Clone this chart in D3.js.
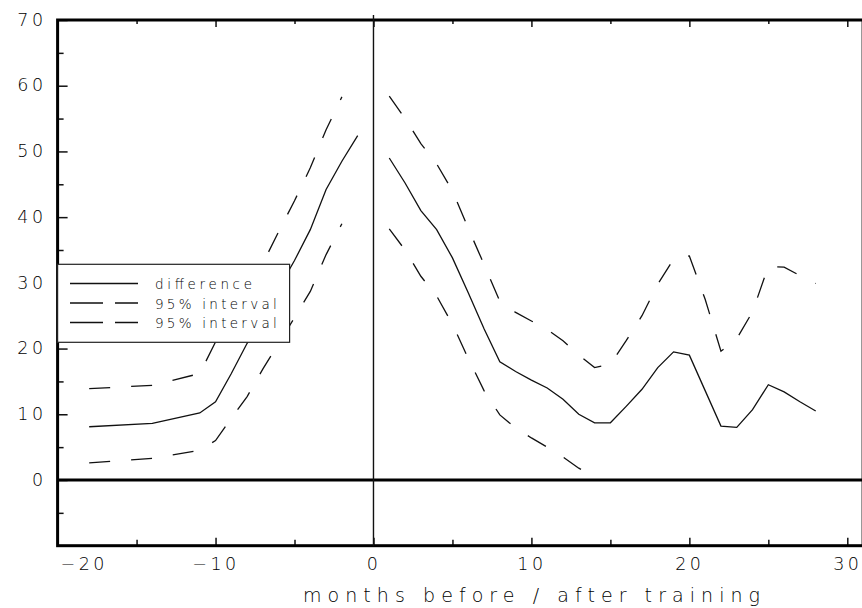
<!DOCTYPE html>
<html>
<head>
<meta charset="utf-8">
<script src="https://cdn.jsdelivr.net/npm/d3@7"></script>
<style>
  body { margin: 0; background: #fff; }
  svg { display: block; }
  text { font-family: 'DejaVu Sans', sans-serif; font-weight: 200; fill: #000; }
</style>
</head>
<body>
<svg width="862" height="608"></svg>
<script>
// months before training (difference and its 95% band)
const preMonths = [-18, -14, -11, -10, -9, -8, -7, -6, -5, -4, -3, -2, -1];
const preDiff   = [8.1, 8.6, 10.2, 11.9, 16.2, 20.8, 24.9, 29.2, 33.4, 38.1, 44.2, 48.5, 52.4];
const preUpper  = [13.9, 14.4, 16.2, 21.0, 25.0, 29.0, 33.0, 37.8, 42.5, 47.5, 53.3, 58.3, null];
const preLower  = [2.6, 3.3, 4.5, 6.0, 9.4, 12.7, 16.9, 20.8, 24.7, 28.7, 34.3, 39.0, null];

// months after training
const postMonths = [1, 2, 3, 4, 5, 6, 7, 8, 9, 10, 11, 12, 13, 14,
                    15, 16, 17, 18, 19, 20, 21, 22, 23, 24, 25, 26, 27, 28];
const postDiff  = [49.0, 45.2, 41.0, 38.1, 33.8, 28.5, 23.0, 18.0, 16.5, 15.2, 14.0, 12.3, 10.0, 8.7,
                   8.7, 11.2, 13.8, 17.1, 19.5, 19.0, 13.6, 8.2, 8.0, 10.7, 14.5, 13.4, 11.9, 10.5];
const postUpper = [58.4, 55.0, 51.2, 48.1, 44.0, 38.3, 32.8, 27.2, 25.5, 24.2, 22.9, 21.2, 19.0, 17.1,
                   17.6, 21.2, 25.0, 29.8, 33.6, 34.1, 27.5, 19.6, 21.5, 25.6, 32.5, 32.4, 31.1, 29.9];
const postLower = [38.2, 35.0, 31.0, 28.0, 23.7, 18.5, 13.6, 9.9, 7.9, 6.4, 5.0, 3.5, 1.8, 0.5,
                   null, null, null, null, null, null, null, null, null, null, null, null, null, null];

const xTicks = [-20, -10, 0, 10, 20, 30];
const xMinor = [-15, -5, 5, 15, 25];
const yTicks = [-10, 0, 10, 20, 30, 40, 50, 60, 70];
const yMinor = [-5, 5, 15, 25, 35, 45, 55, 65];
const legendLabels = ['difference', '95% interval', '95% interval'];
const xTitle = 'months before / after training';

const svg = d3.select('svg');

const x = d3.scaleLinear().domain([-20, 30]).range([57.6, 847.3]);
const y = d3.scaleLinear().domain([-10, 70]).range([545.7, 20]);

const ink = '#111';
const ls = 3.5; // letter spacing of tick labels

function zip(ms, vs) {
    return ms.map((m, i) => ({m: m, v: vs[i]}));
}

const line = d3.line()
    .defined(d => d.v != null)
    .x(d => x(d.m))
    .y(d => y(d.v));

// axes (ticks point inward, the frame is drawn separately)
const bottom = svg.append('g')
    .attr('transform', `translate(0, ${y(-10)})`)
    .call(d3.axisBottom(x).tickValues(xTicks).tickSizeInner(-8).tickSizeOuter(0).tickPadding(11.5));
svg.append('g')
    .attr('transform', `translate(0, ${y(-10)})`)
    .call(d3.axisBottom(x).tickValues(xMinor).tickSizeInner(-6).tickSizeOuter(0).tickFormat(''));
svg.append('g')
    .attr('transform', `translate(0, ${y(70)})`)
    .call(d3.axisTop(x).tickValues(xTicks).tickSizeInner(-7).tickSizeOuter(0).tickFormat(''));
svg.append('g')
    .attr('transform', `translate(0, ${y(70)})`)
    .call(d3.axisTop(x).tickValues(xMinor).tickSizeInner(-4).tickSizeOuter(0).tickFormat(''));
const left = svg.append('g')
    .attr('transform', `translate(${x(-20)}, 0)`)
    .call(d3.axisLeft(y).tickValues(yTicks).tickSizeInner(-10).tickSizeOuter(0).tickPadding(14.5 - ls)
        .tickFormat(d => d < 0 ? '' : d));
svg.append('g')
    .attr('transform', `translate(${x(-20)}, 0)`)
    .call(d3.axisLeft(y).tickValues(yMinor).tickSizeInner(-6).tickSizeOuter(0).tickFormat(''));

svg.selectAll('.domain').remove();
svg.selectAll('.tick line').attr('stroke', ink).attr('stroke-width', 1.5);
svg.selectAll('.tick text')
    .attr('fill', '#000')
    .style('font-family', "'DejaVu Sans', sans-serif")
    .style('font-weight', 200)
    .style('font-size', '17.5px')
    .style('letter-spacing', ls + 'px');
left.selectAll('.tick text').attr('dy', '0.3em');
// leftmost x label is pushed inside the frame
bottom.selectAll('.tick text')
    .filter(d => d === -20)
    .attr('text-anchor', 'start')
    .attr('x', 2.4);

// frame
svg.append('rect')
    .attr('x', x(-20))
    .attr('y', y(70))
    .attr('width', x(31) - x(-20))
    .attr('height', y(-10) - y(70))
    .attr('fill', 'none')
    .attr('stroke', '#000')
    .attr('stroke-width', 3);

// zero line and training month
svg.append('line')
    .attr('x1', x(-20)).attr('x2', x(31))
    .attr('y1', y(0)).attr('y2', y(0))
    .attr('stroke', '#000').attr('stroke-width', 3);
svg.append('line')
    .attr('x1', x(0)).attr('x2', x(0))
    .attr('y1', y(70) - 5).attr('y2', y(-10))
    .attr('stroke', ink).attr('stroke-width', 1.4);

// series
const series = [
    {pts: zip(preMonths, preDiff), dash: null},
    {pts: zip(postMonths, postDiff), dash: null},
    {pts: zip(preMonths, preUpper), dash: '21,21'},
    {pts: zip(postMonths, postUpper), dash: '21,21'},
    {pts: zip(preMonths, preLower), dash: '21,21'},
    {pts: zip(postMonths, postLower), dash: '21,21'}
];
series.forEach(s => {
    svg.append('path')
        .datum(s.pts)
        .attr('fill', 'none')
        .attr('stroke', ink)
        .attr('stroke-width', 1.3)
        .attr('stroke-dasharray', s.dash)
        .attr('d', line);
});

// legend
const lg = svg.append('g');
lg.append('rect')
    .attr('x', x(-20)).attr('y', 264.3)
    .attr('width', 232).attr('height', 78)
    .attr('fill', '#fff')
    .attr('stroke', '#222')
    .attr('stroke-width', 1.2);
legendLabels.forEach((t, i) => {
    const yy = 283.5 + i * 19.5;
    lg.append('line')
        .attr('x1', 70).attr('x2', 138)
        .attr('y1', yy).attr('y2', yy)
        .attr('stroke', ink).attr('stroke-width', 1.3)
        .attr('stroke-dasharray', i === 0 ? null : '33,12,23,100');
    lg.append('text')
        .attr('x', 155).attr('y', yy + 5.8)
        .style('font-size', '13.5px')
        .attr('textLength', i === 0 ? 97 : 121.7)
        .attr('lengthAdjust', 'spacing')
        .text(t);
});

// x title
svg.append('text')
    .attr('x', 303)
    .attr('y', 602)
    .style('font-size', '19px')
    .attr('textLength', 457)
    .attr('lengthAdjust', 'spacing')
    .text(xTitle);
</script>
</body>
</html>
